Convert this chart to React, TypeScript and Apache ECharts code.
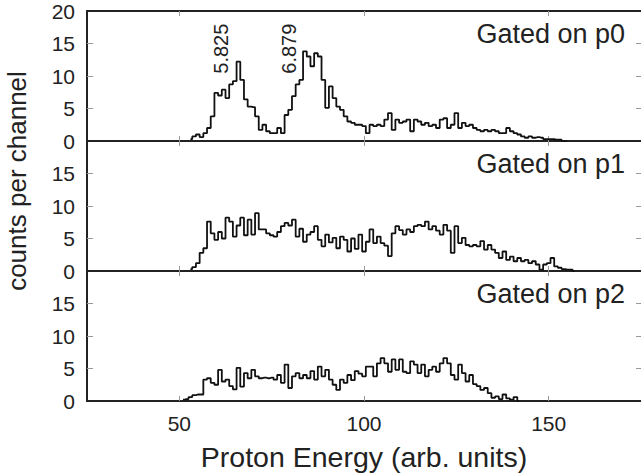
import React, { useEffect, useRef } from "react";
import * as echarts from "echarts";

const FONT = "'Liberation Sans', Arial, sans-serif";

const xTickValues = [50, 100, 150];
const yTickValuesTop = [0, 5, 10, 15, 20];
const yTickValuesLower = [0, 5, 10, 15];
const panelLabels = ["Gated on p0", "Gated on p1", "Gated on p2"];
const xTitle = "Proton Energy (arb. units)";
const yTitle = "counts per channel";

const peakLabels = ["5.825", "6.879"];
const peakX = [61.4, 79.6];
const peakY = [14.2, 14.2];

// Panel p0: counts per channel, starting at channel x = 53 (1 unit per channel)
const p0Start = 53;
const p0Counts = [
  0.3, 0.7, 1.0, 0.6, 1.2, 2.0, 3.8, 7.4, 7.0, 7.9,
  6.6, 8.7, 9.2, 12.2, 9.4, 6.4, 5.3, 5.2, 3.8, 1.7,
  2.5, 1.5, 1.2, 1.2, 2.0, 1.2, 4.0, 4.8, 6.9, 8.7,
  9.4, 13.8, 13.0, 11.5, 13.5, 13.0, 9.4, 5.1, 8.4, 6.6,
  5.3, 4.8, 3.8, 3.0, 2.8, 2.5, 2.5, 2.3, 1.2, 2.5,
  2.3, 2.5, 2.3, 3.3, 4.3, 1.7, 3.3, 2.8, 3.0, 3.3,
  1.5, 3.3, 3.0, 2.5, 2.8, 2.3, 2.5, 2.0, 3.3, 3.5,
  2.0, 2.5, 4.3, 2.0, 2.8, 2.3, 2.5, 2.0, 1.7, 1.5,
  1.7, 1.5, 1.7, 1.5, 1.2, 1.2, 2.0, 1.5, 1.2, 1.0,
  0.7, 0.5, 0.7, 0.5, 0.6, 0.5, 0.3, 0.3, 0.3, 0.2,
  0.2, 0, 0,
];

// Panel p1
const p1Start = 53;
const p1Counts = [
  0.3, 0.6, 1.2, 2.8, 3.5, 7.6, 5.8, 4.8, 6.0, 5.0,
  8.2, 7.6, 5.3, 7.0, 8.2, 5.5, 7.9, 5.6, 8.9, 6.4,
  6.4, 5.8, 5.5, 5.3, 6.0, 6.9, 7.4, 7.0, 7.9, 5.3,
  6.5, 4.5, 5.6, 6.0, 6.9, 4.8, 3.8, 5.6, 4.4, 5.1,
  3.5, 5.3, 4.8, 3.0, 5.0, 3.4, 5.6, 3.0, 4.5, 6.4,
  4.3, 5.3, 4.3, 3.9, 2.3, 5.8, 6.9, 6.3, 5.6, 6.4,
  6.0, 6.9, 7.1, 6.9, 7.6, 6.4, 6.9, 6.2, 5.6, 7.1,
  6.2, 2.8, 6.9, 4.3, 5.1, 4.0, 3.8, 4.0, 3.8, 4.6,
  3.3, 4.0, 3.3, 2.8, 2.0, 3.0, 1.7, 2.2, 1.5, 2.0,
  1.5, 1.7, 1.2, 1.5, 1.0, 0.2, 1.0, 1.2, 2.0, 0.7,
  0.5, 0.3, 0.2, 0.2, 0,
];

// Panel p2
const p2Start = 51;
const p2Counts = [
  0.2, 0.3, 0.6, 0.9, 1.0, 1.0, 3.3, 3.5, 2.8, 2.5,
  4.8, 3.0, 3.3, 2.3, 1.8, 5.1, 2.2, 4.3, 3.5, 4.8,
  3.8, 3.5, 3.6, 3.5, 3.6, 3.3, 4.0, 2.8, 5.6, 2.0,
  3.8, 4.3, 3.5, 4.0, 3.5, 4.6, 3.3, 5.3, 3.8, 4.8,
  3.3, 2.5, 1.7, 3.3, 2.8, 4.0, 3.2, 4.6, 4.2, 3.8,
  5.3, 5.3, 3.8, 5.8, 6.6, 5.8, 4.5, 6.4, 4.8, 6.4,
  4.5, 4.3, 6.1, 5.6, 4.3, 5.6, 3.8, 4.8, 5.3, 4.5,
  5.8, 6.6, 5.8, 4.0, 3.3, 5.6, 4.3, 3.0, 4.0, 2.6,
  2.3, 1.7, 2.0, 1.2, 0.5, 0.7, 0.3, 1.0, 0.4, 0.2,
  0.6, 0,
];

const panels = [
  { start: p0Start, counts: p0Counts },
  { start: p1Start, counts: p1Counts },
  { start: p2Start, counts: p2Counts },
];

const GRID_LEFT = 87;
const GRID_WIDTH = 557;
const GRID_TOP = 11;
const PANEL_H = 130;
const AXIS_COLOR = "#222";
const TICK_COLOR = "#999";
const TEXT_COLOR = "#222";

export default function App() {
  const ref = useRef<HTMLDivElement>(null);

  useEffect(() => {
    if (!ref.current) return;
    const chart = echarts.init(ref.current, null, { renderer: "svg" });

    const grids = panels.map((_, i) => ({
      left: GRID_LEFT,
      width: GRID_WIDTH,
      top: GRID_TOP + PANEL_H * i,
      height: PANEL_H,
    }));

    const bottomX = panels.map((_, i) => ({
      type: "value",
      gridIndex: i,
      position: "bottom",
      min: 25,
      max: 175,
      interval: 25,
      axisLine: { show: true, onZero: false, lineStyle: { color: AXIS_COLOR, width: 2 } },
      axisTick: {
        show: true,
        inside: true,
        length: 5,
        customValues: xTickValues,
        lineStyle: { color: TICK_COLOR, width: 1 },
      },
      axisLabel: {
        show: i === panels.length - 1,
        customValues: xTickValues,
        fontSize: 21,
        fontFamily: FONT,
        color: TEXT_COLOR,
        margin: 12,
      },
      splitLine: { show: false },
      name: i === panels.length - 1 ? xTitle : "",
      nameLocation: "middle",
      nameGap: 41,
      nameTextStyle: { fontSize: 28.5, fontFamily: FONT, color: TEXT_COLOR },
    }));

    const topX = panels.map((_, i) => ({
      type: "value",
      gridIndex: i,
      position: "top",
      min: 25,
      max: 175,
      interval: 25,
      axisLine: { show: i === 0, onZero: false, lineStyle: { color: AXIS_COLOR, width: 2 } },
      axisTick: {
        show: true,
        inside: true,
        length: 5,
        customValues: xTickValues,
        lineStyle: { color: TICK_COLOR, width: 1 },
      },
      axisLabel: { show: false },
      splitLine: { show: false },
    }));

    const leftY = panels.map((_, i) => ({
      type: "value",
      gridIndex: i,
      position: "left",
      min: 0,
      max: 20,
      interval: 5,
      axisLine: { show: true, onZero: false, lineStyle: { color: AXIS_COLOR, width: 2 } },
      axisTick: {
        show: true,
        inside: true,
        length: 6,
        customValues: [5, 10, 15],
        lineStyle: { color: TICK_COLOR, width: 1 },
      },
      axisLabel: {
        show: true,
        customValues: i === 0 ? yTickValuesTop : yTickValuesLower,
        fontSize: 21,
        fontFamily: FONT,
        color: TEXT_COLOR,
        margin: 12,
      },
      splitLine: { show: false },
    }));

    const rightY = panels.map((_, i) => ({
      type: "value",
      gridIndex: i,
      position: "right",
      min: 0,
      max: 20,
      interval: 5,
      axisLine: { show: false },
      axisTick: {
        show: true,
        inside: true,
        length: 5,
        customValues: [5, 10, 15],
        lineStyle: { color: TICK_COLOR, width: 1 },
      },
      axisLabel: { show: false },
      splitLine: { show: false },
    }));

    const series: any[] = panels.map((p, i) => ({
      type: "line",
      xAxisIndex: i,
      yAxisIndex: i,
      step: "middle",
      symbol: "none",
      lineStyle: { color: "#111", width: 1.8 },
      data: p.counts.map((v, k) => [p.start + k, v]),
      z: 3,
    }));

    series[0].markPoint = {
      symbol: "rect",
      symbolSize: 1,
      itemStyle: { color: "rgba(0,0,0,0)" },
      label: {
        show: true,
        formatter: "{b}",
        position: "inside",
        rotate: 90,
        fontSize: 20,
        fontFamily: FONT,
        color: TEXT_COLOR,
      },
      data: peakLabels.map((t, k) => ({ name: t, coord: [peakX[k], peakY[k]] })),
    };

    const graphic: any[] = [
      {
        type: "text",
        x: 17,
        y: 181,
        rotation: Math.PI / 2,
        style: {
          text: yTitle,
          fontSize: 26,
          fontFamily: FONT,
          fill: TEXT_COLOR,
          textAlign: "center",
          textVerticalAlign: "middle",
        },
      },
      ...panelLabels.map((t, i) => ({
        type: "text",
        x: 625,
        y: GRID_TOP + PANEL_H * i + 23,
        style: {
          text: t,
          fontSize: 27,
          fontFamily: FONT,
          fill: TEXT_COLOR,
          textAlign: "right",
          textVerticalAlign: "middle",
        },
      })),
    ];

    chart.setOption({
      animation: false,
      backgroundColor: "#fff",
      grid: grids,
      xAxis: [...bottomX, ...topX],
      yAxis: [...leftY, ...rightY],
      series,
      graphic,
    });

    return () => chart.dispose();
  }, []);

  return (
    <div
      ref={ref}
      style={{ position: "fixed", left: 0, top: 0, width: 641, height: 474 }}
    />
  );
}
